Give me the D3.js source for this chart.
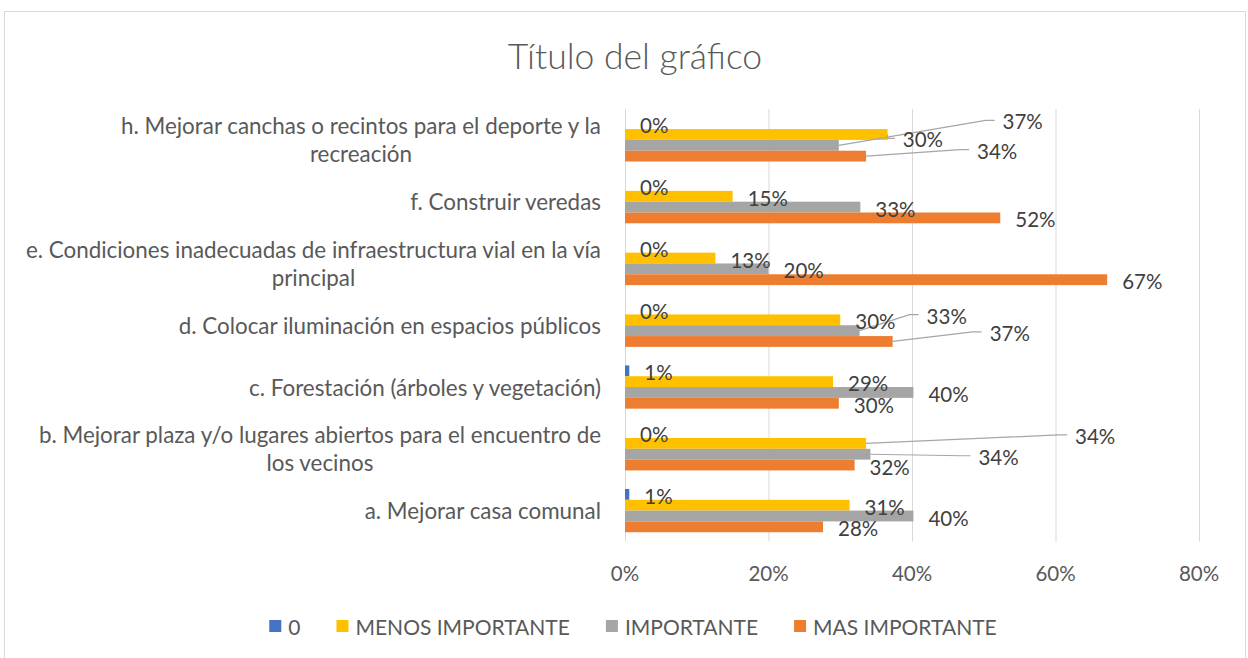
<!DOCTYPE html>
<html><head><meta charset="utf-8">
<script src="https://cdn.jsdelivr.net/npm/d3@7"></script>
<style>body{margin:0;background:#fff;} svg{display:block;font-family:Lato,"Liberation Sans",sans-serif;}</style>
</head><body><svg id="c" width="1248" height="658"></svg>
<script>
// ---- data ----
const categories = [
  "h. Mejorar canchas o recintos para el deporte y la\nrecreación",
  "f. Construir veredas",
  "e. Condiciones inadecuadas de infraestructura vial en la vía\nprincipal",
  "d. Colocar iluminación en espacios públicos",
  "c. Forestación (árboles y vegetación)",
  "b. Mejorar plaza y/o lugares abiertos para el encuentro de\nlos vecinos",
  "a. Mejorar casa comunal"
];
const seriesNames = ["0", "MENOS IMPORTANTE", "IMPORTANTE", "MAS IMPORTANTE"];
const valuesCero       = [0, 0, 0, 0, 0.6, 0, 0.6];
const valuesMenos      = [36.6, 15, 12.6, 30, 29, 33.6, 31.3];
const valuesImportante = [29.8, 32.8, 20, 32.7, 40.2, 34.2, 40.2];
const valuesMas        = [33.6, 52.3, 67.2, 37.3, 29.8, 32, 27.6];
const xTicks = [0, 20, 40, 60, 80];
const title = "Título del gráfico";

// ---- styling / layout ----
const seriesColors = ["#4472C4", "#FFC000", "#A5A5A5", "#ED7D31"];
const allValues = [valuesCero, valuesMenos, valuesImportante, valuesMas];
// manual label placements (pixel nudges) and leader targets
const labelMoves = {
  "0|1": {dx: 100, dy: -14.6, leaderTo: 2},
  "0|2": {dx: 49, dy: -7.4, leaderTo: 1},
  "0|3": {dx: 96, dy: -7, leaderTo: 3},
  "3|2": {dx: 52, dy: -16.5, leaderTo: 2},
  "3|3": {dx: 82, dy: -10, leaderTo: 3},
  "5|1": {dx: 194, dy: -9, leaderTo: 1},
  "5|2": {dx: 93, dy: 1, leaderTo: 2}
};

const svg = d3.select("#c");
svg.append("rect").attr("x", 0).attr("y", 0).attr("width", 1248).attr("height", 658).attr("fill", "#fff");
svg.append("rect").attr("x", 4.5).attr("y", 11.5).attr("width", 1241).attr("height", 660)
  .attr("fill", "none").attr("stroke", "#d9d9d9");

svg.append("text").attr("x", 635).attr("y", 55).attr("text-anchor", "middle")
  .attr("dominant-baseline", "central").attr("font-size", 35.5).attr("font-weight", 300)
  .attr("fill", "#595959").text(title);

const x = d3.scaleLinear().domain([0, 80]).range([625, 1199]);
const y = d3.scaleBand().domain(d3.range(categories.length)).range([109, 541.5])
  .paddingInner(0.3).paddingOuter(0.15);
const ys = d3.scaleBand().domain(d3.range(seriesNames.length)).range([0, y.bandwidth()]);
const plotTop = 109, plotBottom = 541.5;

// gridlines
svg.append("g").selectAll("line").data(xTicks).join("line")
  .attr("x1", d => x(d) + 0.5).attr("x2", d => x(d) + 0.5)
  .attr("y1", plotTop).attr("y2", plotBottom)
  .attr("stroke", "#d9d9d9").attr("stroke-width", 1);

// x tick labels
svg.append("g").selectAll("text").data(xTicks).join("text")
  .attr("x", d => x(d)).attr("y", 573).attr("text-anchor", "middle")
  .attr("dominant-baseline", "central").attr("font-size", 20.5).attr("fill", "#595959")
  .text(d => d + "%");

// category labels
categories.forEach((c, i) => {
  const lines = c.split("\n");
  const g = svg.append("g");
  const cy = y(i) + y.bandwidth() / 2;
  const lh = 28;
  const texts = lines.map((ln, j) => g.append("text")
    .attr("y", cy + (j - (lines.length - 1) / 2) * lh)
    .attr("dominant-baseline", "central").attr("font-size", 22.4).attr("fill", "#595959")
    .attr("text-anchor", "middle").text(ln));
  const w = d3.max(texts, t => t.node().getComputedTextLength());
  texts.forEach(t => t.attr("x", 601 - w / 2));
});

// bars
const barData = [];
allValues.forEach((vals, s) => vals.forEach((v, i) => barData.push({s, i, v})));
svg.append("g").selectAll("rect").data(barData).join("rect")
  .attr("x", x(0)).attr("y", d => y(d.i) + ys(d.s))
  .attr("width", d => x(d.v) - x(0)).attr("height", ys.bandwidth())
  .attr("fill", d => seriesColors[d.s]);

// data labels + leader lines
const lg = svg.append("g"), tg = svg.append("g");
barData.forEach(d => {
  const cy = y(d.i) + ys(d.s) + ys.bandwidth() / 2 + 1.5;
  let lx = x(d.v) + 15, ly = cy;
  const m = labelMoves[d.i + "|" + d.s];
  if (m) {
    lx += m.dx; ly += m.dy;
    const tv = allValues[m.leaderTo][d.i];
    const sx = x(tv), sy = y(d.i) + ys(m.leaderTo) + ys.bandwidth() / 2;
    const pts = [[sx, sy], [Math.max(sx, lx - 17), ly - 1], [lx - 8, ly - 1]];
    lg.append("path").attr("d", d3.line()(pts)).attr("fill", "none")
      .attr("stroke", "#a6a6a6").attr("stroke-width", 1.2);
  }
  tg.append("text").attr("x", lx).attr("y", ly).attr("dominant-baseline", "central")
    .attr("font-size", 20.5).attr("fill", "#404040").text(Math.round(d.v) + "%");
});

// legend
const leg = svg.append("g");
let lxp = 0;
const legendGap = 36;
seriesNames.forEach((n, s) => {
  const g = leg.append("g");
  g.append("rect").attr("x", 0).attr("y", -6).attr("width", 12).attr("height", 12).attr("fill", seriesColors[s]);
  const t = g.append("text").attr("x", 19).attr("y", 0).attr("dominant-baseline", "central")
    .attr("font-size", 21).attr("fill", "#595959").text(n);
  const w = 19 + t.node().getComputedTextLength();
  g.attr("transform", `translate(${lxp},0)`);
  lxp += w + legendGap;
});
const totalW = lxp - legendGap;
leg.attr("transform", `translate(${633 - totalW / 2},626)`);
</script></body></html>
